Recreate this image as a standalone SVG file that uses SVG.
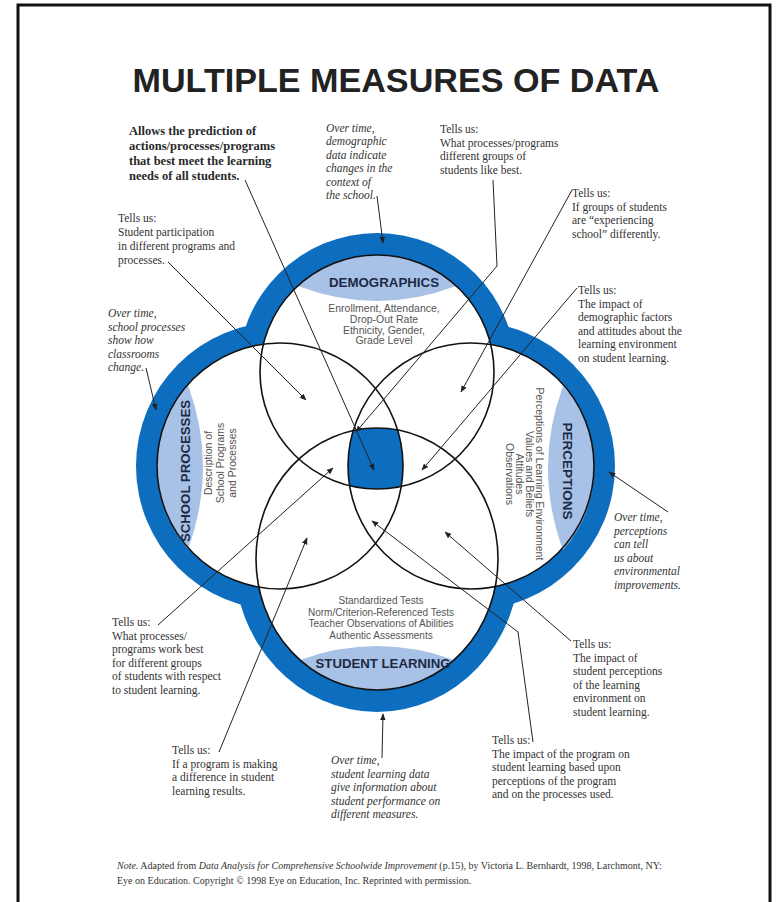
<svg xmlns="http://www.w3.org/2000/svg" width="780" height="902" viewBox="0 0 780 902">
<style>
.ann{font-family:"Liberation Serif","Times New Roman",serif;font-size:11.5px;fill:#333}
.it{font-style:italic}
.bold{font-weight:bold;font-size:12.5px;fill:#2a2a2a}
.lbl{font-family:"Liberation Sans",Arial,sans-serif;font-weight:bold;font-size:12.5px;fill:#1c2a44}
.item{font-family:"Liberation Sans",Arial,sans-serif;font-size:10.5px;fill:#555}
.sm{font-size:10px}
.ln{stroke:#222;stroke-width:1;fill:none;marker-end:url(#ah)}
.circ{fill:none;stroke:#111;stroke-width:1.6}
.note{font-family:"Liberation Serif","Times New Roman",serif;font-size:10px;fill:#333}
</style>
<defs>
<marker id="ah" viewBox="0 0 10 10" refX="9" refY="5" markerWidth="7" markerHeight="7" orient="auto" markerUnits="userSpaceOnUse">
<path d="M0,1 L10,5 L0,9 Z" fill="#222"/>
</marker>
<clipPath id="cT"><circle cx="377" cy="372" r="117"/></clipPath>
<clipPath id="cB"><ellipse cx="377" cy="559" rx="121" ry="131"/></clipPath>
<clipPath id="cL"><circle cx="280" cy="466" r="123"/></clipPath>
<clipPath id="cR"><circle cx="471" cy="466" r="123"/></clipPath>
</defs>
<rect x="0" y="0" width="780" height="902" fill="#fff"/>
<rect x="18" y="5" width="752" height="920" fill="none" stroke="#111" stroke-width="3"/>
<text x="396" y="92" text-anchor="middle" font-family="Liberation Sans,Arial,sans-serif" font-weight="bold" font-size="33" fill="#222" textLength="527" lengthAdjust="spacingAndGlyphs">MULTIPLE MEASURES OF DATA</text>

<g id="band">
<circle cx="377" cy="372" r="139" fill="#0d6ebf"/>
<ellipse cx="377" cy="559" rx="143" ry="153" fill="#0d6ebf"/>
<circle cx="280" cy="466" r="144" fill="#0d6ebf"/>
<circle cx="471" cy="466" r="144" fill="#0d6ebf"/>
<circle cx="377" cy="372" r="117" fill="#fff"/>
<ellipse cx="377" cy="559" rx="121" ry="131" fill="#fff"/>
<circle cx="280" cy="466" r="123" fill="#fff"/>
<circle cx="471" cy="466" r="123" fill="#fff"/>
</g>

<g id="center">
<g clip-path="url(#cT)"><g clip-path="url(#cB)"><g clip-path="url(#cL)"><rect x="300" y="380" width="150" height="150" fill="#0d6ebf" clip-path="url(#cR)"/></g></g></g>
</g>

<g id="demographics">
<path d="M298,286 A117,117 0 0 1 456,286 Q377,316 298,286 Z" fill="#a8c1e6"/>
<circle class="circ" cx="377" cy="372" r="117"/>
<text class="lbl" x="384" y="287" text-anchor="middle" textLength="110" lengthAdjust="spacingAndGlyphs">DEMOGRAPHICS</text>
<text class="item" text-anchor="middle"><tspan x="384" y="312">Enrollment, Attendance,</tspan><tspan x="384" y="323">Drop-Out Rate</tspan><tspan x="384" y="333.5">Ethnicity, Gender,</tspan><tspan x="384" y="344">Grade Level</tspan></text>
</g>

<g id="school-processes">
<path d="M188,385 A123,123 0 0 0 188,549 Q218,467 188,385 Z" fill="#a8c1e6"/>
<circle class="circ" cx="280" cy="466" r="123"/>
<text class="lbl" transform="translate(189.5,471) rotate(-90)" text-anchor="middle" textLength="142" lengthAdjust="spacingAndGlyphs">SCHOOL PROCESSES</text>
<text class="item" transform="translate(0,463) rotate(-90)" text-anchor="middle"><tspan x="0" y="212">Description of</tspan><tspan x="0" y="224">School Programs</tspan><tspan x="0" y="236">and Processes</tspan></text>
</g>

<g id="perceptions">
<path d="M563,386 A123,123 0 0 1 563,550 Q533,468 563,386 Z" fill="#a8c1e6"/>
<circle class="circ" cx="471" cy="466" r="123"/>
<text class="lbl" transform="translate(563,471) rotate(90)" text-anchor="middle" textLength="97" lengthAdjust="spacingAndGlyphs">PERCEPTIONS</text>
<text class="item" transform="translate(0,474) rotate(90)" text-anchor="middle"><tspan x="0" y="-535.5">Perceptions of Learning Environment</tspan><tspan x="0" y="-525.5">Values and Beliefs</tspan><tspan x="0" y="-515.5">Attitudes</tspan><tspan x="0" y="-505.5">Observations</tspan></text>
</g>

<g id="student-learning">
<path d="M300,660 Q377,632 454,660 A121,131 0 0 1 300,660 Z" fill="#a8c1e6"/>
<ellipse class="circ" cx="377" cy="559" rx="121" ry="131"/>
<text class="lbl" x="383" y="668" text-anchor="middle" textLength="135" lengthAdjust="spacingAndGlyphs">STUDENT LEARNING</text>
<text class="item sm" text-anchor="middle"><tspan x="381" y="604">Standardized Tests</tspan><tspan x="381" y="615.5">Norm/Criterion-Referenced Tests</tspan><tspan x="381" y="627">Teacher Observations of Abilities</tspan><tspan x="381" y="638.5">Authentic Assessments</tspan></text>
</g>

<g id="ann-prediction"><text class="ann bold"><tspan x="129" y="135">Allows the prediction of</tspan><tspan x="129" y="150">actions/processes/programs</tspan><tspan x="129" y="165">that best meet the learning</tspan><tspan x="129" y="180">needs of all students.</tspan></text></g>
<g id="ann-demo-time"><text class="ann it"><tspan x="326" y="132">Over time,</tspan><tspan x="326" y="145.4">demographic</tspan><tspan x="326" y="158.8">data indicate</tspan><tspan x="326" y="172.2">changes in the</tspan><tspan x="326" y="185.6">context of</tspan><tspan x="326" y="199">the school.</tspan></text></g>
<g id="ann-like-best"><text class="ann"><tspan x="440" y="133">Tells us:</tspan><tspan x="440" y="146.5">What processes/programs</tspan><tspan x="440" y="160">different groups of</tspan><tspan x="440" y="173.5">students like best.</tspan></text></g>
<g id="ann-experiencing"><text class="ann"><tspan x="572" y="197">Tells us:</tspan><tspan x="572" y="210.5">If groups of students</tspan><tspan x="572" y="224">are “experiencing</tspan><tspan x="572" y="237.5">school” differently.</tspan></text></g>
<g id="ann-demo-impact"><text class="ann"><tspan x="578" y="294">Tells us:</tspan><tspan x="578" y="307.5">The impact of</tspan><tspan x="578" y="321">demographic factors</tspan><tspan x="578" y="334.5">and attitudes about the</tspan><tspan x="578" y="348">learning environment</tspan><tspan x="578" y="361.5">on student learning.</tspan></text></g>
<g id="ann-participation"><text class="ann"><tspan x="118" y="222">Tells us:</tspan><tspan x="118" y="236">Student participation</tspan><tspan x="118" y="250">in different programs and</tspan><tspan x="118" y="264">processes.</tspan></text></g>
<g id="ann-sp-time"><text class="ann it"><tspan x="108" y="317">Over time,</tspan><tspan x="108" y="330.5">school processes</tspan><tspan x="108" y="344">show how</tspan><tspan x="108" y="357.5">classrooms</tspan><tspan x="108" y="371">change.</tspan></text></g>
<g id="ann-perc-time"><text class="ann it"><tspan x="614" y="521">Over time,</tspan><tspan x="614" y="534.5">perceptions</tspan><tspan x="614" y="548">can tell</tspan><tspan x="614" y="561.5">us about</tspan><tspan x="614" y="575">environmental</tspan><tspan x="614" y="588.5">improvements.</tspan></text></g>
<g id="ann-perc-impact"><text class="ann"><tspan x="573" y="648">Tells us:</tspan><tspan x="573" y="661.5">The impact of</tspan><tspan x="573" y="675">student perceptions</tspan><tspan x="573" y="688.5">of the learning</tspan><tspan x="573" y="702">environment on</tspan><tspan x="573" y="715.5">student learning.</tspan></text></g>
<g id="ann-program-impact"><text class="ann"><tspan x="492" y="744">Tells us:</tspan><tspan x="492" y="757.5">The impact of the program on</tspan><tspan x="492" y="771">student learning based upon</tspan><tspan x="492" y="784.5">perceptions of the program</tspan><tspan x="492" y="798">and on the processes used.</tspan></text></g>
<g id="ann-sl-time"><text class="ann it"><tspan x="331" y="764">Over time,</tspan><tspan x="331" y="777.5">student learning data</tspan><tspan x="331" y="791">give information about</tspan><tspan x="331" y="804.5">student performance on</tspan><tspan x="331" y="818">different measures.</tspan></text></g>
<g id="ann-difference"><text class="ann"><tspan x="172" y="754">Tells us:</tspan><tspan x="172" y="767.5">If a program is making</tspan><tspan x="172" y="781">a difference in student</tspan><tspan x="172" y="794.5">learning results.</tspan></text></g>
<g id="ann-work-best"><text class="ann"><tspan x="112" y="626">Tells us:</tspan><tspan x="112" y="639.5">What processes/</tspan><tspan x="112" y="653">programs work best</tspan><tspan x="112" y="666.5">for different groups</tspan><tspan x="112" y="680">of students with respect</tspan><tspan x="112" y="693.5">to student learning.</tspan></text></g>

<g id="connectors">
<line class="ln" x1="245" y1="180" x2="374" y2="470"/>
<line class="ln" x1="377" y1="196" x2="383" y2="243"/>
<polyline class="ln" points="493,180 497,266 356,432"/>
<line class="ln" x1="572" y1="190" x2="461" y2="392"/>
<line class="ln" x1="577" y1="288" x2="422" y2="470"/>
<line class="ln" x1="168" y1="262" x2="306" y2="400"/>
<line class="ln" x1="146" y1="368" x2="156" y2="410"/>
<line class="ln" x1="668" y1="512" x2="609" y2="472"/>
<line class="ln" x1="571" y1="641" x2="445" y2="532"/>
<polyline class="ln" points="533,742 518,632 372,521"/>
<line class="ln" x1="382" y1="758" x2="383" y2="714"/>
<line class="ln" x1="219" y1="752" x2="307" y2="538"/>
<line class="ln" x1="158" y1="625" x2="333" y2="468"/>
</g>

<g id="note"><text class="note"><tspan x="117" y="869"><tspan font-style="italic">Note.</tspan> Adapted from <tspan font-style="italic">Data Analysis for Comprehensive Schoolwide Improvement</tspan> (p.15), by Victoria L. Bernhardt, 1998, Larchmont, NY:</tspan><tspan x="117" y="884">Eye on Education. Copyright © 1998 Eye on Education, Inc. Reprinted with permission.</tspan></text></g>
</svg>
